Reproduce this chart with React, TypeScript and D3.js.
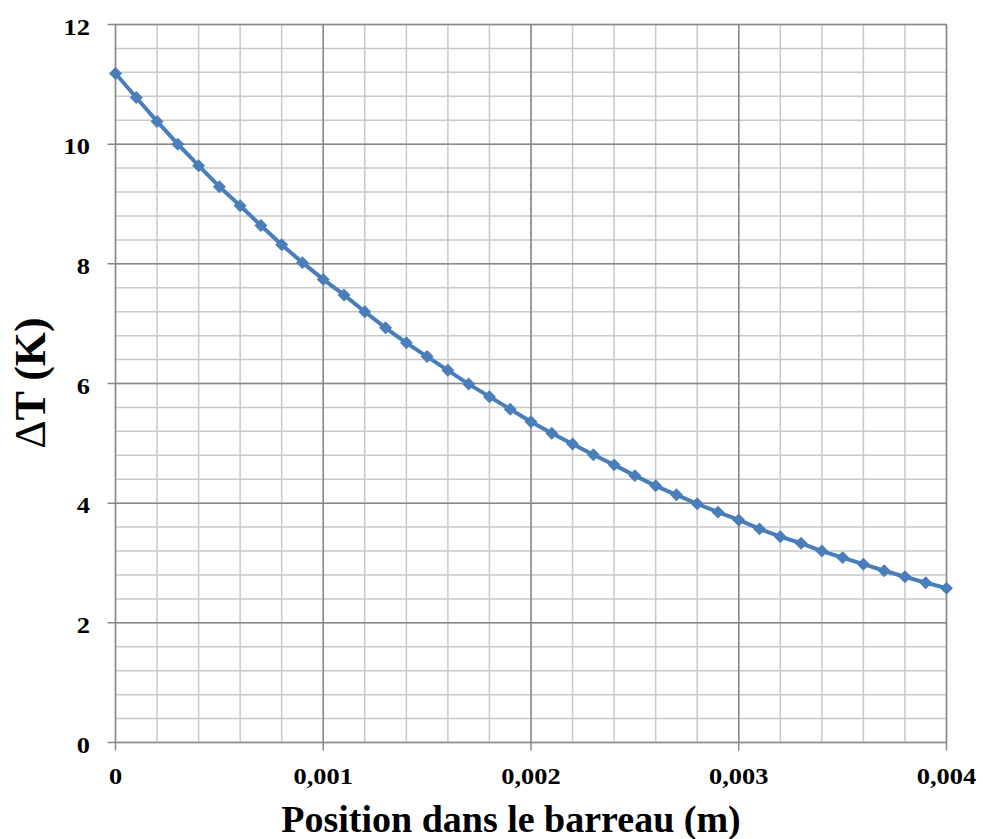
import React from "react";
import * as d3 from "d3";

const positions: number[] = [
  0, 0.0001, 0.0002, 0.0003, 0.0004, 0.0005, 0.0006, 0.0007, 0.0008, 0.0009,
  0.001, 0.0011, 0.0012, 0.0013, 0.0014, 0.0015, 0.0016, 0.0017, 0.0018, 0.0019,
  0.002, 0.0021, 0.0022, 0.0023, 0.0024, 0.0025, 0.0026, 0.0027, 0.0028, 0.0029,
  0.003, 0.0031, 0.0032, 0.0033, 0.0034, 0.0035, 0.0036, 0.0037, 0.0038, 0.0039,
  0.004,
];
const deltaT: number[] = [
  11.18, 10.78, 10.38, 10.0, 9.64, 9.29, 8.97, 8.64, 8.32, 8.02,
  7.74, 7.48, 7.2, 6.93, 6.68, 6.45, 6.22, 5.99, 5.78, 5.57,
  5.36, 5.17, 4.99, 4.81, 4.64, 4.46, 4.29, 4.14, 3.99, 3.85,
  3.72, 3.57, 3.44, 3.33, 3.2, 3.09, 2.98, 2.87, 2.77, 2.67,
  2.58,
];
const xTicks: number[] = [0, 0.001, 0.002, 0.003, 0.004];
const xTickLabels: string[] = ["0", "0,001", "0,002", "0,003", "0,004"];
const yTicks: number[] = [0, 2, 4, 6, 8, 10, 12];
const xMinor: number[] = d3.range(0, 0.0040001, 0.0002);
const yMinor: number[] = d3.range(0, 12.0001, 0.4);

const W = 983;
const H = 839;
const left = 115.5;
const right = 946.5;
const top = 24.5;
const bottom = 742.5;

export default function App() {
  const x = d3.scaleLinear().domain([0, 0.004]).range([left, right]);
  const y = d3.scaleLinear().domain([0, 12]).range([bottom, top]);
  const pts = positions.map((p, i) => [p, deltaT[i]] as [number, number]);
  const line = d3
    .line<[number, number]>()
    .x((d) => x(d[0]))
    .y((d) => y(d[1]));
  const marker = d3.symbol().type(d3.symbolSquare).size(84)() as string;
  const font = "'Liberation Serif', 'Times New Roman', serif";
  const blue = "#4a7ebb";

  return (
    <svg
      width={W}
      height={H}
      style={{ position: "absolute", left: 0, top: 0, background: "#fff" }}
    >
      {/* minor grid */}
      {xMinor.map((v, i) => (
        <line key={"xm" + i} x1={x(v)} x2={x(v)} y1={top} y2={bottom} stroke="#c8c8c8" strokeWidth={1.5} />
      ))}
      {yMinor.map((v, i) => (
        <line key={"ym" + i} x1={left} x2={right} y1={y(v)} y2={y(v)} stroke="#c8c8c8" strokeWidth={1.5} />
      ))}
      {/* major grid */}
      {xTicks.map((v, i) => (
        <line key={"xM" + i} x1={x(v)} x2={x(v)} y1={top} y2={bottom + 8} stroke="#888" strokeWidth={1.5} />
      ))}
      {yTicks.map((v, i) => (
        <line key={"yM" + i} x1={left - 8} x2={right} y1={y(v)} y2={y(v)} stroke="#888" strokeWidth={1.5} />
      ))}
      {/* series */}
      <path d={line(pts) || ""} fill="none" stroke={blue} strokeWidth={4} />
      {pts.map((d, i) => (
        <path
          key={"m" + i}
          d={marker}
          transform={`translate(${x(d[0])},${y(d[1])}) rotate(45)`}
          fill={blue}
        />
      ))}
      {/* y tick labels */}
      {yTicks.map((v, i) => (
        <text
          key={"yl" + i}
          transform={`translate(90,${y(v) + 10}) scale(1.1,1)`}
          textAnchor="end"
          fontFamily={font}
          fontWeight="bold"
          fontSize={24}
          fill="#000"
        >
          {String(v)}
        </text>
      ))}
      {/* x tick labels */}
      {xTicks.map((v, i) => (
        <text
          key={"xl" + i}
          transform={`translate(${x(v)},784) scale(1.1,1)`}
          textAnchor="middle"
          fontFamily={font}
          fontWeight="bold"
          fontSize={24}
          fill="#000"
        >
          {xTickLabels[i]}
        </text>
      ))}
      {/* axis titles */}
      <text
        x={511}
        y={832}
        textAnchor="middle"
        fontFamily={font}
        fontWeight="bold"
        fontSize={38}
        fill="#000"
      >
        Position dans le barreau (m)
      </text>
      <text
        transform={`translate(45,383) rotate(-90)`}
        textAnchor="middle"
        fontFamily={font}
        fontWeight="bold"
        fontSize={44}
        fill="#000"
      >
        <tspan fontWeight="normal">Δ</tspan>T (K)
      </text>
    </svg>
  );
}
